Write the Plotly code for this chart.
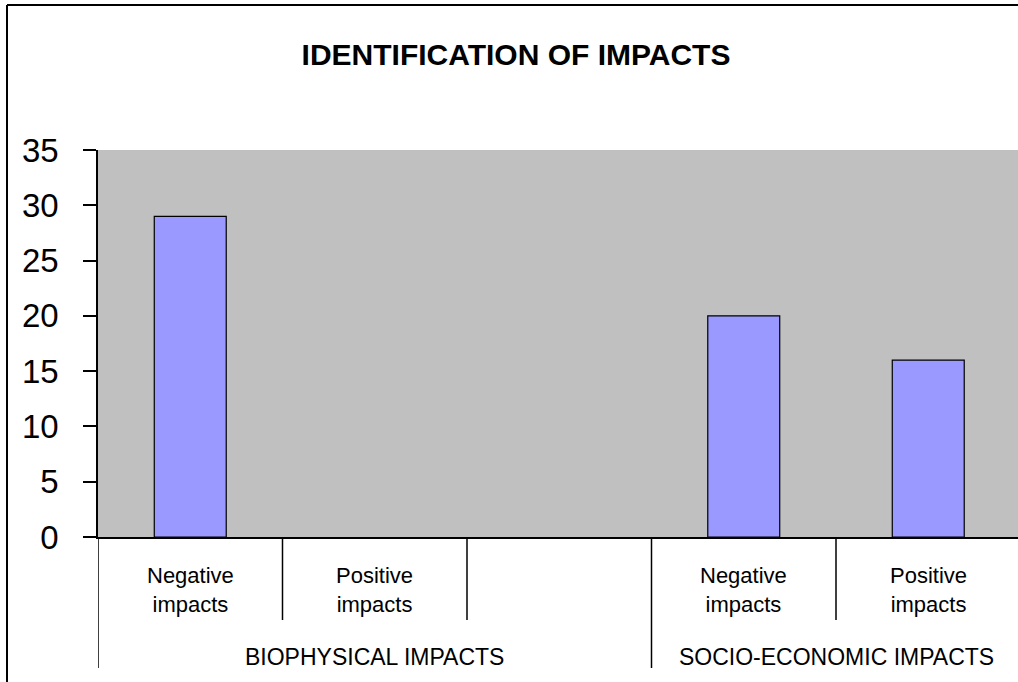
import plotly.graph_objects as go

# ---- data -------------------------------------------------------------
categories = ["Negative<br>impacts", "Positive<br>impacts", "",
              "Negative<br>impacts", "Positive<br>impacts"]
values = [29, 0, None, 20, 16]
groups = ["BIOPHYSICAL IMPACTS", "SOCIO-ECONOMIC IMPACTS"]
group_sizes = [3, 2]
y_ticks = [0, 5, 10, 15, 20, 25, 30, 35]

# ---- page geometry (pixels) -------------------------------------------
W, H = 1018, 682
PL, PR, PT, PB = 98, 1018, 150, 537      # plot area edges
FONT = "Arial, Liberation Sans, sans-serif"


def px(x):
    return (x - PL) / (PR - PL)


def py(y):
    return (PB - y) / (PB - PT)


x_pos = list(range(len(categories)))
slot_px = 184.5
x_max = -0.5 + (PR - PL) / slot_px

# no outline on empty (zero-height) bars
outline_w = [1.2 if v else 0 for v in values]

fig = go.Figure(
    go.Bar(
        x=x_pos,
        y=values,
        width=0.39,
        marker=dict(color="#9999FF", line=dict(color="#000000", width=outline_w)),
        hoverinfo="skip",
    )
)

shapes = []
annotations = []

# category labels under each slot
for i, lab in enumerate(categories):
    if lab:
        annotations.append(dict(
            x=i, y=py(590), xref="x", yref="paper", text=lab,
            showarrow=False, font=dict(family=FONT, size=22, color="#000"),
            xanchor="center", yanchor="middle", align="center",
        ))

# group labels and the long dividers between groups
start = 0
long_edges = {-0.5}
for name, n in zip(groups, group_sizes):
    left, right = start - 0.5, start + n - 0.5
    long_edges.add(right)
    annotations.append(dict(
        x=(left + right) / 2, y=py(657), xref="x", yref="paper", text=name,
        showarrow=False, font=dict(family=FONT, size=23, color="#000"),
        xanchor="center", yanchor="middle",
    ))
    start += n

for k in range(len(categories) + 1):
    edge = k - 0.5
    bottom = 668 if edge in long_edges else 620
    shapes.append(dict(
        type="line", xref="x", yref="paper", x0=edge, x1=edge,
        y0=py(PB), y1=py(bottom), line=dict(color="#000", width=1.5),
    ))

# chart frame (top and left border)
shapes.append(dict(type="line", xref="paper", yref="paper",
                   x0=px(7), x1=px(W + 5), y0=py(5), y1=py(5),
                   line=dict(color="#000", width=2)))
shapes.append(dict(type="line", xref="paper", yref="paper",
                   x0=px(7), x1=px(7), y0=py(5), y1=py(H + 5),
                   line=dict(color="#000", width=2)))

fig.update_layout(
    width=W, height=H,
    margin=dict(l=PL, r=W - PR, t=PT, b=H - PB, pad=0),
    paper_bgcolor="#FFFFFF",
    plot_bgcolor="#C0C0C0",
    showlegend=False,
    title=dict(
        text="<b>IDENTIFICATION OF IMPACTS</b>",
        x=516 / W, xanchor="center", xref="container",
        y=1 - 54 / H, yanchor="middle", yref="container",
        font=dict(family=FONT, size=30, color="#000"),
    ),
    xaxis=dict(
        range=[-0.5, x_max], showticklabels=False, ticks="",
        showgrid=False, zeroline=False,
        showline=True, linecolor="#000", linewidth=1.5,
    ),
    yaxis=dict(
        range=[0, 35], tickvals=y_ticks, ticks="outside", ticklen=13,
        tickwidth=1.5, tickcolor="#000", ticklabelstandoff=18,
        showgrid=False, zeroline=False,
        showline=True, linecolor="#000", linewidth=1.5,
        tickfont=dict(family=FONT, size=33, color="#000"),
    ),
    shapes=shapes,
    annotations=annotations,
)

fig.write_html("out.html")
